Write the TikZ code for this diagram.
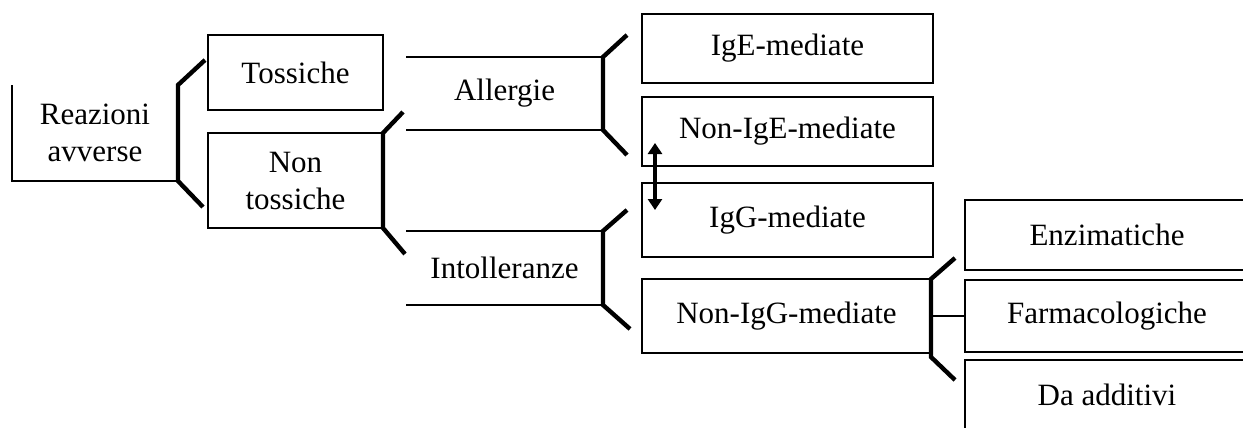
\documentclass[tikz,border=0pt]{standalone}
\usepackage{fontspec}
\setmainfont{Liberation Serif}
\usepackage{tikz}
\usetikzlibrary{arrows.meta}

\begin{document}
\begin{tikzpicture}[box/.style={draw,line width=1.1bp,inner sep=0pt,outer sep=0pt,align=center,font=\fontsize{15.5bp}{18.5bp}\selectfont},
open/.style={box,draw=none},
edge/.style={line width=1.1bp},
brace/.style={line width=2.2bp,line join=miter},
twoway/.style={{Triangle[width=7bp,length=5.5bp]}-{Triangle[width=7bp,length=5.5bp]},line width=1.6bp}]
\useasboundingbox (0bp,0bp) rectangle (621.5bp,-214bp);
\node (reaz) at (47.5bp,-66.5bp)[open,minimum width=83bp,minimum height=48bp] {Reazioni\\avverse};
\node (toss) at (147.75bp,-36.25bp)[box,minimum width=87.5bp,minimum height=37.5bp] {Tossiche};
\node (nontox) at (147.75bp,-90.25bp)[box,minimum width=87.5bp,minimum height=47.5bp] {Non\\tossiche};
\node (allerg) at (252.25bp,-46.75bp)[open,minimum width=98.5bp,minimum height=36.5bp] {Allergie};
\node (intoll) at (252.25bp,-134bp)[open,minimum width=98.5bp,minimum height=37bp] {Intolleranze};
\node (ige) at (393.75bp,-24.25bp)[box,minimum width=145.5bp,minimum height=34.5bp] {IgE-mediate};
\node (nonige) at (393.75bp,-65.75bp)[box,minimum width=145.5bp,minimum height=34.5bp] {Non-IgE-mediate};
\node (igg) at (393.75bp,-110bp)[box,minimum width=145.5bp,minimum height=37bp] {IgG-mediate};
\node (nonigg) at (393.25bp,-158bp)[box,minimum width=144.5bp,minimum height=37bp] {Non-IgG-mediate};
\node (enzim) at (553.5bp,-117.5bp)[box,minimum width=142bp,minimum height=35bp] {Enzimatiche};
\node (farm) at (553.5bp,-158bp)[box,minimum width=142bp,minimum height=36bp] {Farmacologiche};
\node (addit) at (553.5bp,-197.5bp)[open,minimum width=142bp,minimum height=35bp] {Da additivi};
\draw[edge] (reaz.north west) -- (reaz.south west) -- (reaz.south east);
\draw[edge] (allerg.north west) -- (allerg.north east);
\draw[edge] (allerg.south west) -- (allerg.south east);
\draw[edge] (intoll.north west) -- (intoll.north east);
\draw[edge] (intoll.south west) -- (intoll.south east);
\draw[edge] (addit.south west) -- (addit.north west) -- (addit.north east);
\draw[brace] ([shift={(13.5bp,12.5bp)}]reaz.north east) -- (reaz.north east) -- (reaz.south east) -- ++(12.5bp,-13bp);
\draw[brace] ([shift={(10bp,10.5bp)}]nontox.north east) -- (nontox.north east) -- (nontox.south east) -- ++(11bp,-13bp);
\draw[brace] ([shift={(12bp,11bp)}]allerg.north east) -- (allerg.north east) -- (allerg.south east) -- ++(12bp,-12.5bp);
\draw[brace] ([shift={(12bp,10.5bp)}]intoll.north east) -- (intoll.north east) -- (intoll.south east) -- ++(13.5bp,-12bp);
\draw[brace] ([shift={(12bp,10.5bp)}]nonigg.north east) -- (nonigg.north east) -- ([yshift=-2bp]nonigg.south east) -- ++(12bp,-11.5bp);
\draw[edge] (nonigg.east) -- (farm.west);
\draw[twoway] ([shift={(6.5bp,11.5bp)}]nonige.south west) -- ([shift={(6.5bp,-13.5bp)}]igg.north west);
\end{tikzpicture}
\end{document}
